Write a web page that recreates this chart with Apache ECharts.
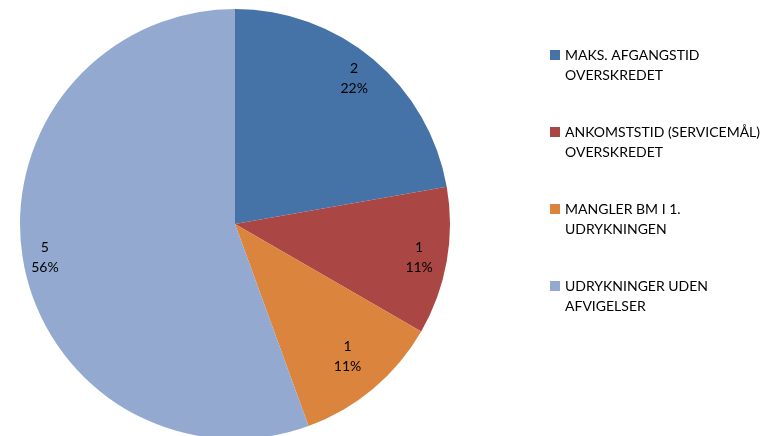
<!DOCTYPE html>
<html><head><meta charset="utf-8">
<script src="https://cdn.jsdelivr.net/npm/echarts@6/dist/echarts.min.js"></script>
<style>html,body{margin:0;padding:0;background:#fff}#c{width:771px;height:436px}</style>
</head><body><div id="c"></div>
<script>
const categories = ['MAKS. AFGANGSTID\nOVERSKREDET', 'ANKOMSTSTID (SERVICEMÅL)\nOVERSKREDET', 'MANGLER BM I 1.\nUDRYKNINGEN', 'UDRYKNINGER UDEN\nAFVIGELSER'];
const values = [2, 1, 1, 5];
const percentLabels = ['22%', '11%', '11%', '56%'];
const colors = ['#4572A7', '#AA4643', '#DB843D', '#93A9CF'];

const FONT = 'Lato';
const chart = echarts.init(document.getElementById('c'), null, {renderer: 'canvas'});
const baseData = categories.map((n, i) => ({name: n, value: values[i], itemStyle: {color: colors[i]}}));
function overlayData(showIdx) {
  return categories.map((n, i) => ({
    name: n, value: values[i],
    itemStyle: {color: 'rgba(0,0,0,0)'},
    label: {show: showIdx.includes(i)}
  }));
}
const labelCfg = {
  position: 'inside',
  formatter: p => p.value + '\n' + percentLabels[p.dataIndex],
  color: '#000', fontFamily: FONT, fontSize: 14, lineHeight: 20
};
chart.setOption({
  animation: false,
  color: colors,
  legend: {
    orient: 'vertical', left: 550, top: 25, padding: 0,
    itemWidth: 10, itemHeight: 10, itemGap: 17,
    icon: 'rect',
    data: categories,
    formatter: n => ' \n' + n,
    textStyle: {fontFamily: FONT, fontSize: 14, lineHeight: 20, color: '#000'}
  },
  series: [
    {type: 'pie', center: [235, 224], radius: [0, 215], startAngle: 90, clockwise: true,
     label: {show: false}, labelLine: {show: false}, data: baseData, silent: true,
     itemStyle: {borderWidth: 0}},
    {type: 'pie', center: [232, 224], radius: [0, 374], startAngle: 90, clockwise: true,
     label: labelCfg, labelLine: {show: false}, data: overlayData([0, 1, 3]), silent: true,
     legendHoverLink: false, itemStyle: {borderWidth: 0}},
    {type: 'pie', center: [235, 222], radius: [0, 344], startAngle: 90, clockwise: true,
     label: labelCfg, labelLine: {show: false}, data: overlayData([2]), silent: true,
     legendHoverLink: false, itemStyle: {borderWidth: 0}}
  ]
});
</script></body></html>
